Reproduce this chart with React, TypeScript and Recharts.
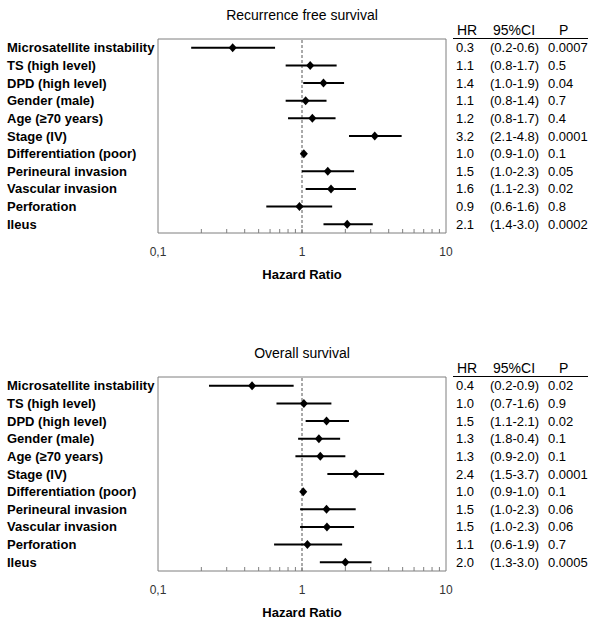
import { ErrorBar, ReferenceArea, ReferenceLine, Scatter, ScatterChart, XAxis, YAxis } from "recharts";

const FONT = "'Liberation Sans', Arial, sans-serif";

const labels = [
  "Microsatellite instability",
  "TS (high level)",
  "DPD (high level)",
  "Gender (male)",
  "Age (≥70 years)",
  "Stage (IV)",
  "Differentiation (poor)",
  "Perineural invasion",
  "Vascular invasion",
  "Perforation",
  "Ileus",
];

// recurrence free survival, plotted values
const rfsEst = [0.33, 1.14, 1.41, 1.06, 1.18, 3.2, 1.03, 1.51, 1.59, 0.96, 2.06];
const rfsLo = [0.17, 0.77, 1.02, 0.77, 0.8, 2.12, 0.98, 1.0, 1.06, 0.565, 1.41];
const rfsHi = [0.65, 1.74, 1.96, 1.48, 1.71, 4.92, 1.06, 2.3, 2.37, 1.62, 3.1];
const rfsHR = ["0.3", "1.1", "1.4", "1.1", "1.2", "3.2", "1.0", "1.5", "1.6", "0.9", "2.1"];
const rfsCI = ["(0.2-0.6)", "(0.8-1.7)", "(1.0-1.9)", "(0.8-1.4)", "(0.8-1.7)", "(2.1-4.8)", "(0.9-1.0)", "(1.0-2.3)", "(1.1-2.3)", "(0.6-1.6)", "(1.4-3.0)"];
const rfsP = ["0.0007", "0.5", "0.04", "0.7", "0.4", "0.0001", "0.1", "0.05", "0.02", "0.8", "0.0002"];

// overall survival
const osEst = [0.45, 1.03, 1.48, 1.31, 1.34, 2.37, 1.02, 1.48, 1.49, 1.09, 2.0];
const osLo = [0.226, 0.665, 1.06, 0.94, 0.9, 1.5, 0.98, 0.97, 0.97, 0.64, 1.33];
const osHi = [0.875, 1.6, 2.12, 1.84, 2.0, 3.72, 1.05, 2.36, 2.3, 1.9, 3.04];
const osHR = ["0.4", "1.0", "1.5", "1.3", "1.3", "2.4", "1.0", "1.5", "1.5", "1.1", "2.0"];
const osCI = ["(0.2-0.9)", "(0.7-1.6)", "(1.1-2.1)", "(1.8-0.4)", "(0.9-2.0)", "(1.5-3.7)", "(0.9-1.0)", "(1.0-2.3)", "(1.0-2.3)", "(0.6-1.9)", "(1.3-3.0)"];
const osP = ["0.02", "0.9", "0.02", "0.1", "0.1", "0.0001", "0.1", "0.06", "0.06", "0.7", "0.0005"];

const xTicks = [0.1, 0.2, 0.3, 0.4, 0.5, 0.6, 0.7, 0.8, 0.9, 1, 2, 3, 4, 5, 6, 7, 8, 9, 10];
const xTickLabels: Record<number, string> = { 0.1: "0,1", 1: "1", 10: "10" };
const rowTicks = [1, 2, 3, 4, 5, 6, 7, 8, 9, 10, 11];

const Diamond = (props: any) => {
  const { cx, cy } = props;
  return <path d={`M${cx},${cy - 4.5}L${cx + 4},${cy}L${cx},${cy + 4.5}L${cx - 4},${cy}Z`} fill="#000" />;
};

const XTick = ({ x, y, payload }: any) => {
  const v = payload.value;
  const lab = xTickLabels[v];
  const edge = v === 0.1 || v === 10;
  return (
    <g>
      {!edge && <line x1={x} x2={x} y1={y} y2={y - 4} stroke="#7f7f7f" />}
      {lab && (
        <text x={x} y={y + 23} textAnchor="middle" fontFamily={FONT} fontSize={12} fill="#333">
          {lab}
        </text>
      )}
    </g>
  );
};

function Panel({ title, top, est, lo, hi, hr, ci, p }: any) {
  const data = est.map((e: number, i: number) => ({ row: i + 1, hr: e, err: [e - lo[i], hi[i] - e] }));
  // row label on the left, HR / CI / P columns to the right of the plot box
  const RowTick = ({ y, payload }: any) => {
    const i = payload.value - 1;
    return (
      <g fontFamily={FONT} fill="#000">
        <text x={7} y={y} dy={4.5} fontSize={13} fontWeight="bold">{labels[i]}</text>
        <text x={456} y={y} dy={4.5} fontSize={13}>{hr[i]}</text>
        <text x={490} y={y} dy={4.5} fontSize={13}>{ci[i]}</text>
        <text x={548} y={y} dy={4.5} fontSize={13}>{p[i]}</text>
      </g>
    );
  };
  const hdr = { position: "absolute" as const, top: 22, fontFamily: FONT, fontSize: 14, color: "#000" };
  return (
    <div style={{ position: "absolute", left: 0, top, width: 600, height: 291 }}>
      <div style={{ position: "absolute", left: 158, width: 288, top: 7, textAlign: "center", fontFamily: FONT, fontSize: 14, color: "#000" }}>
        {title}
      </div>
      <span style={{ ...hdr, left: 457 }}>HR</span>
      <span style={{ ...hdr, left: 493 }}>95%CI</span>
      <span style={{ ...hdr, left: 559 }}>P</span>
      <div style={{ position: "absolute", left: 453, width: 135, top: 38, borderTop: "1.5px solid #000" }} />
      <ScatterChart width={600} height={291} margin={{ top: 39, right: 154, bottom: 0, left: 8 }}>
        <XAxis
          type="number"
          dataKey="hr"
          scale="log"
          domain={[0.1, 10]}
          ticks={xTicks}
          interval={0}
          axisLine={false}
          tickLine={false}
          tickSize={0}
          tickMargin={0}
          height={58}
          tick={<XTick />}
          label={{ value: "Hazard Ratio", position: "insideBottom", offset: 12, fontFamily: FONT, fontSize: 13, fontWeight: "bold", fill: "#000" }}
        />
        <YAxis
          type="number"
          dataKey="row"
          domain={[0.5, 11.5]}
          reversed
          ticks={rowTicks}
          interval={0}
          width={150}
          axisLine={false}
          tickLine={false}
          tick={(props: any) => <RowTick {...props} />}
        />
        <ReferenceArea x1={0.1} x2={10} y1={0.5} y2={11.5} fill="none" stroke="#7f7f7f" strokeWidth={1} />
        <ReferenceLine x={1} stroke="#555" strokeDasharray="3 2" />
        <Scatter data={data} shape={<Diamond />} isAnimationActive={false}>
          <ErrorBar dataKey="err" direction="x" width={0} stroke="#000" strokeWidth={2} isAnimationActive={false} />
        </Scatter>
      </ScatterChart>
    </div>
  );
}

export default function App() {
  return (
    <div style={{ position: "fixed", left: 0, top: 0, width: 600, height: 629, background: "#fff", overflow: "hidden" }}>
      <Panel title="Recurrence free survival" top={0} est={rfsEst} lo={rfsLo} hi={rfsHi} hr={rfsHR} ci={rfsCI} p={rfsP} />
      <Panel title="Overall survival" top={338} est={osEst} lo={osLo} hi={osHi} hr={osHR} ci={osCI} p={osP} />
    </div>
  );
}
